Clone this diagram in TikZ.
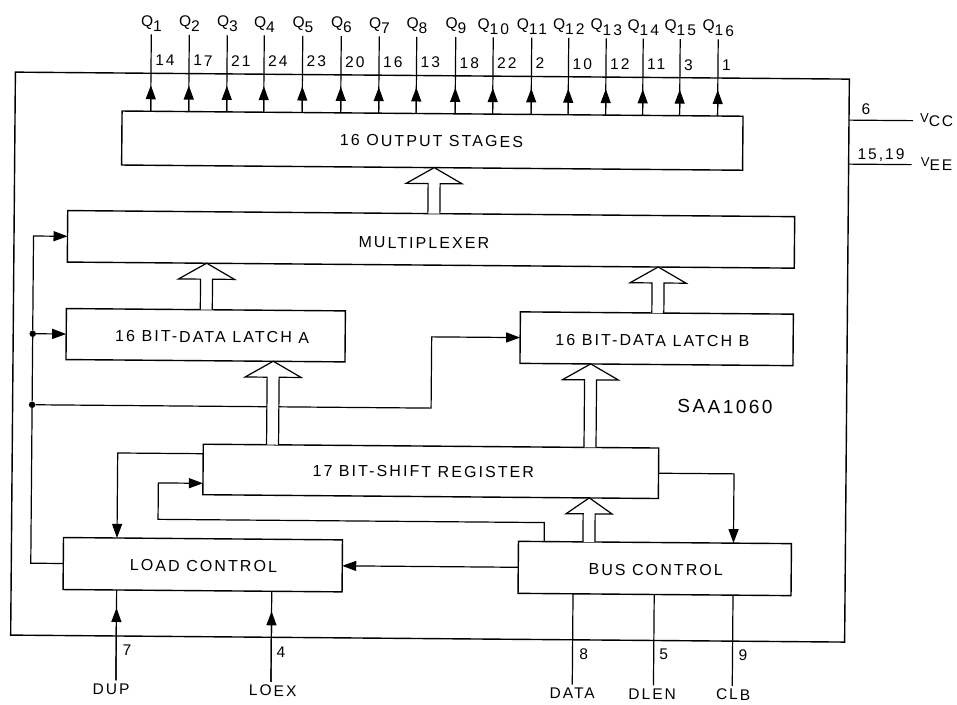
\documentclass[tikz,border=0pt]{standalone}
\usepackage{fontspec}
\setmainfont[LetterSpace=13]{Liberation Sans}
\usetikzlibrary{arrows.meta,calc}

\newcommand{\lowered}[1]{\raisebox{-5pt}{#1}}
% hollow bus arrow: half width, x, from node, to node
\newcommand{\busarrow}[4][28]{%
  \coordinate (busfoot) at (#2,0 |- #3.north);
  \coordinate (bustip) at (#2,0 |- #4.south);
  \draw[busline] ([xshift=-6pt]busfoot) -- ([shift={(-6pt,-16pt)}]bustip) -- ([shift={(-#1pt,-16pt)}]bustip) -- (bustip)
    -- ([shift={(#1pt,-16pt)}]bustip) -- ([shift={(6pt,-16pt)}]bustip) -- ([xshift=6pt]busfoot);
}

\tikzset{
  wire/.style={line width=1.2pt},
  busline/.style={line width=1.2pt, fill=white},
  blockbox/.style={draw, line width=1.4pt, inner sep=0pt, outer sep=0pt},
  blocklabel/.style={font=\fontsize{16}{18}\selectfont},
  pinlabel/.style={font=\fontsize{15.5}{18}\selectfont, inner sep=0pt},
  pinname/.style={font=\fontsize{15.5}{18}\selectfont, inner sep=3pt},
  joint/.style={circle, fill=black, inner sep=0pt, minimum size=6.5pt}
}

\begin{document}
\begin{tikzpicture}[x=1pt, y=-1pt, >={Triangle[length=14pt,width=10pt]}]
    \useasboundingbox (0,0) rectangle (957,704);
    \begin{scope}[rotate=-0.48, transform shape]
        % Chip outline
        \node[blockbox] (chip) at (433,353.5) [minimum width=834pt, minimum height=563pt] {};
        \node[blocklabel, font=\fontsize{19}{22}\selectfont] (chipname) at (728.4,400.6) {SAA1060};

        % Blocks
        \node[blockbox, minimum width=621pt, minimum height=54pt] (stages) at (433.5,137) {};
        \node[blocklabel] (stageslabel) at (432.7,137.4) {16 OUTPUT STAGES};
        \node[blockbox, minimum width=727pt, minimum height=51.5pt] (mux) at (433,235.75) {};
        \node[blocklabel] (muxlabel) at (426,239.4) {MULTIPLEXER};
        \node[blockbox, minimum width=279pt, minimum height=51pt] (latcha) at (208.5,333.5) {};
        \node[blocklabel] (latchalabel) at (215,335) {16 BIT-DATA LATCH A};
        \node[blockbox, minimum width=273pt, minimum height=51.5pt] (latchb) at (659.5,333.25) {};
        \node[blocklabel] (latchblabel) at (655.3,335) {16 BIT-DATA LATCH B};
        \node[blockbox, minimum width=455.5pt, minimum height=50.5pt] (shift) at (434.75,467.75) {};
        \node[blocklabel] (shiftlabel) at (427.3,468) {17 BIT-SHIFT REGISTER};
        \node[blockbox, minimum width=279pt, minimum height=52pt] (load) at (207.5,563) {};
        \node[blocklabel] (loadlabel) at (208.3,564.3) {LOAD CONTROL};
        \node[blockbox, minimum width=273pt, minimum height=52pt] (bus) at (659.5,563) {};
        \node[blocklabel] (buslabel) at (660.5,564.5) {BUS CONTROL};

        % Outputs
        \foreach \n/\u/\p in {1/151.6/14, 2/189.6/17, 3/227.6/21, 4/264.6/24, 5/303.1/23, 6/341.6/20, 7/379.6/16, 8/417.1/13,
                              9/456.1/18, 10/493.6/22, 11/532.1/2, 12/569.1/10, 13/606.6/12, 14/643.6/11, 15/680.6/3, 16/718.6/1} {
            \node[pinname, anchor=base] (Q\n) at (\u,25) {Q\lowered{\n}};
            \node[pinlabel, anchor=west] (pin\n) at (\u+4,59) {\p};
            \draw[wire] (Q\n.south) -- (Q\n.south |- stages.north);
            \draw[wire, ->] (Q\n.south |- stages.north) -- ++(0,-26);
        }

        % Supply pins
        \node[pinname] (vcc) at (937.7,112) {{\fontsize{13}{16}\selectfont V}\raisebox{-4pt}{CC}};
        \node[pinname] (vee) at (938,156.5) {{\fontsize{13}{16}\selectfont V}\raisebox{-4pt}{EE}};
        \node[pinlabel] (pinvcc) at (867,101.7) {6};
        \node[pinlabel] (pinvee) at (882.3,147.6) {15,19};
        \draw[wire] (chip.north east |- 0,113) -- (914,113);
        \draw[wire] (chip.north east |- 0,157) -- (913,157);

        % Load lines on the left
        \coordinate (riser) at (35.5,0);
        \node[joint] (jointa) at (riser |- latcha.west) {};
        \node[joint] (jointb) at (35.5,404.5) {};
        \draw[wire] (load.west) -- (riser |- load.west) -- (jointb) -- (jointa);
        \draw[wire, ->] (jointa) -- (riser |- mux.west) -- (mux.west);
        \draw[wire, ->] (jointa) -- (latcha.west);
        \draw[wire, ->] (jointb) -- (434.5,404.5) -- (434.5,333.25) -- (latchb.west);

        % Shift register and control
        \draw[wire, ->] (shift.west |- 0,452) -- (121.5,452) -- (121.5,0 |- load.north);
        \draw[wire, ->] (548.7,0 |- bus.north) -- (548.7,518) -- (162.4,518) -- (162.4,481.6) -- (shift.west |- 0,481.6);
        \draw[wire, ->] (shift.east) -- (738,0 |- shift.east) -- (738,0 |- bus.north);
        \draw[wire, ->] (bus.west) -- (load.east);

        % Bus arrows
        \busarrow{435.7}{mux}{stages}
        \busarrow{208.9}{latcha}{mux}
        \busarrow{660.5}{latchb}{mux}
        \busarrow{276.3}{shift}{latcha}
        \busarrow{593.8}{shift}{latchb}
        \busarrow[23]{593.5}{bus}{shift}

        % Pins at the bottom
        \node[pinname] (dup) at (116.8,688) {DUP};
        \node[pinname] (loex) at (278.5,688.4) {LOEX};
        \node[pinname] (data) at (578,688.5) {DATA};
        \node[pinname] (dlen) at (658,688.5) {DLEN};
        \node[pinname] (clb) at (739,688.5) {CLB};
        \node[pinlabel] (pindup) at (132.5,649) {7};
        \node[pinlabel] (pinloex) at (286.5,649.6) {4};
        \node[pinlabel] (pindata) at (589.2,649) {8};
        \node[pinlabel] (pindlen) at (669.2,649) {5};
        \node[pinlabel] (pinclb) at (748.5,648.8) {9};
        \draw[wire] (121.6,0 |- dup.north) -- (121.6,0 |- load.south);
        \draw[wire, ->] (121.6,0 |- dup.north) -- (121.6,607);
        \draw[wire] (276.7,0 |- loex.north) -- (276.7,0 |- load.south);
        \draw[wire, ->] (276.7,0 |- loex.north) -- (276.7,609);
        \draw[wire] (578,0 |- data.north) -- (578,0 |- bus.south);
        \draw[wire] (659.2,0 |- dlen.north) -- (659.2,0 |- bus.south);
        \draw[wire] (738,0 |- clb.north) -- (738,0 |- bus.south);
    \end{scope}
\end{tikzpicture}
\end{document}
